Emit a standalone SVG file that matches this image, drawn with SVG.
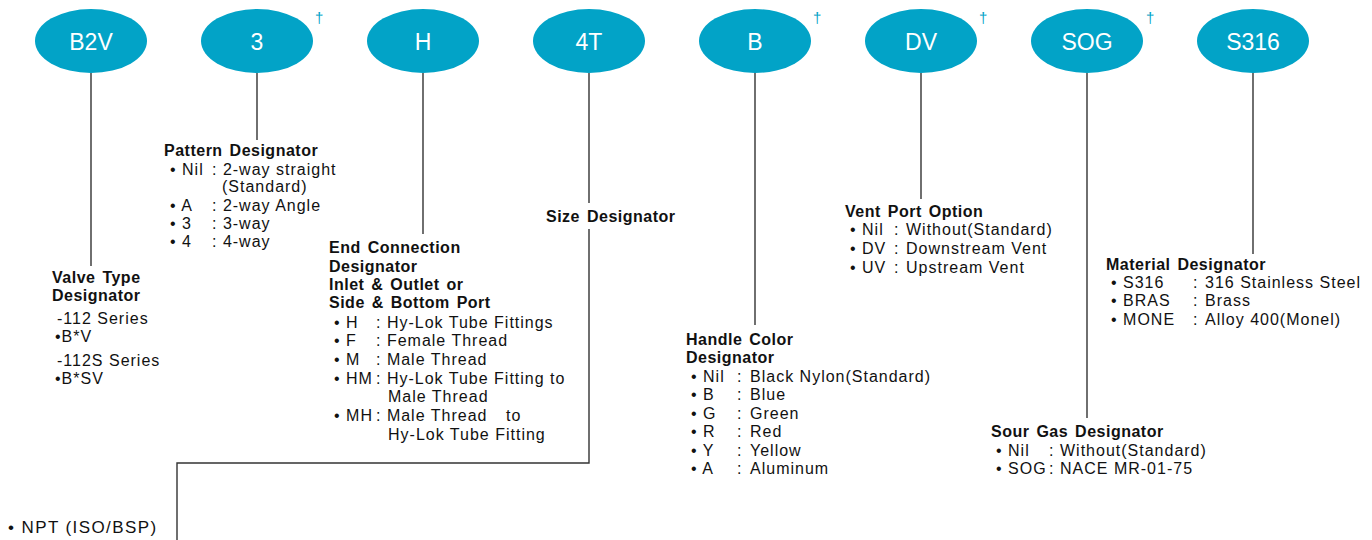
<svg xmlns="http://www.w3.org/2000/svg" width="1372" height="540" viewBox="0 0 1372 540">
<style>
.node ellipse{fill:#02a3c7}
.lbl{font-family:"Liberation Sans",Arial,sans-serif;font-size:23px;fill:#fff;text-anchor:middle}
.dag{font-family:"Liberation Sans",Arial,sans-serif;font-size:15px;fill:#02a3c7}
.t{font-family:"Liberation Sans",Arial,sans-serif;font-size:16px;font-weight:bold;fill:#111;letter-spacing:0.5px;word-spacing:2px}
.i{font-family:"Liberation Sans",Arial,sans-serif;font-size:16px;fill:#111;letter-spacing:1px}
.conn line,.conn polyline{stroke:#333;stroke-width:1.4;fill:none}
</style>
<rect width="1372" height="540" fill="#fff"/>
<g class="conn" id="connectors">
<line x1="91" y1="73" x2="91" y2="266"/>
<line x1="257" y1="73" x2="257" y2="140"/>
<line x1="423" y1="73" x2="423" y2="234"/>
<line x1="589" y1="73" x2="589" y2="203"/>
<polyline points="589,229 589,463 177,463 177,540"/>
<line x1="755" y1="73" x2="755" y2="325"/>
<line x1="921" y1="73" x2="921" y2="199"/>
<line x1="1087" y1="73" x2="1087" y2="418"/>
<line x1="1253" y1="73" x2="1253" y2="254"/>
</g>
<g class="node" id="n-b2v"><ellipse cx="91" cy="41" rx="56" ry="32"/><text class="lbl" x="91" y="50">B2V</text></g>
<g class="node" id="n-3"><ellipse cx="257" cy="41" rx="56" ry="32"/><text class="lbl" x="257" y="50">3</text><text class="dag" x="315" y="23">†</text></g>
<g class="node" id="n-h"><ellipse cx="423" cy="41" rx="56" ry="32"/><text class="lbl" x="423" y="50">H</text></g>
<g class="node" id="n-4t"><ellipse cx="589" cy="41" rx="56" ry="32"/><text class="lbl" x="589" y="50">4T</text></g>
<g class="node" id="n-b"><ellipse cx="755" cy="41" rx="56" ry="32"/><text class="lbl" x="755" y="50">B</text><text class="dag" x="813" y="23">†</text></g>
<g class="node" id="n-dv"><ellipse cx="921" cy="41" rx="56" ry="32"/><text class="lbl" x="921" y="50">DV</text><text class="dag" x="979" y="23">†</text></g>
<g class="node" id="n-sog"><ellipse cx="1087" cy="41" rx="56" ry="32"/><text class="lbl" x="1087" y="50">SOG</text><text class="dag" x="1146" y="23">†</text></g>
<g class="node" id="n-s316"><ellipse cx="1253" cy="41" rx="56" ry="32"/><text class="lbl" x="1253" y="50">S316</text></g>

<g id="valve-type">
<text class="t" x="52" y="283">Valve Type</text>
<text class="t" x="52" y="301">Designator</text>
<text class="i" x="57" y="324">-112 Series</text>
<text class="i" x="55" y="342">•B*V</text>
<text class="i" x="57" y="366">-112S Series</text>
<text class="i" x="55" y="384">•B*SV</text>
</g>
<g id="pattern">
<text class="t" x="164" y="156">Pattern Designator</text>
<text class="i" y="175"><tspan x="170">• Nil</tspan><tspan x="212">: 2-way straight</tspan></text>
<text class="i" x="222" y="192">(Standard)</text>
<text class="i" y="211"><tspan x="170">• A</tspan><tspan x="212">: 2-way Angle</tspan></text>
<text class="i" y="229"><tspan x="170">• 3</tspan><tspan x="212">: 3-way</tspan></text>
<text class="i" y="247"><tspan x="170">• 4</tspan><tspan x="212">: 4-way</tspan></text>
</g>
<g id="end-conn">
<text class="t" x="329" y="253">End Connection</text>
<text class="t" x="329" y="272">Designator</text>
<text class="t" x="329" y="290">Inlet &amp; Outlet or</text>
<text class="t" x="329" y="308">Side &amp; Bottom Port</text>
<text class="i" y="328"><tspan x="334">• H</tspan><tspan x="376">: Hy-Lok Tube Fittings</tspan></text>
<text class="i" y="346"><tspan x="334">• F</tspan><tspan x="376">: Female Thread</tspan></text>
<text class="i" y="365"><tspan x="334">• M</tspan><tspan x="376">: Male Thread</tspan></text>
<text class="i" y="384"><tspan x="334">• HM</tspan><tspan x="376">: Hy-Lok Tube Fitting to</tspan></text>
<text class="i" x="388" y="402">Male Thread</text>
<text class="i" y="421"><tspan x="334">• MH</tspan><tspan x="376">: Male Thread</tspan><tspan x="506">to</tspan></text>
<text class="i" x="388" y="440">Hy-Lok Tube Fitting</text>
</g>
<g id="size"><text class="t" x="546" y="222">Size Designator</text></g>
<g id="handle">
<text class="t" x="686" y="345">Handle Color</text>
<text class="t" x="686" y="363">Designator</text>
<text class="i" y="382"><tspan x="691">• Nil</tspan><tspan x="737">:</tspan><tspan x="750">Black Nylon(Standard)</tspan></text>
<text class="i" y="400"><tspan x="691">• B</tspan><tspan x="737">:</tspan><tspan x="750">Blue</tspan></text>
<text class="i" y="419"><tspan x="691">• G</tspan><tspan x="737">:</tspan><tspan x="750">Green</tspan></text>
<text class="i" y="437"><tspan x="691">• R</tspan><tspan x="737">:</tspan><tspan x="750">Red</tspan></text>
<text class="i" y="456"><tspan x="691">• Y</tspan><tspan x="737">:</tspan><tspan x="750">Yellow</tspan></text>
<text class="i" y="474"><tspan x="691">• A</tspan><tspan x="737">:</tspan><tspan x="750">Aluminum</tspan></text>
</g>
<g id="vent">
<text class="t" x="845" y="217">Vent Port Option</text>
<text class="i" y="235"><tspan x="850">• Nil</tspan><tspan x="894">:</tspan><tspan x="906">Without(Standard)</tspan></text>
<text class="i" y="254"><tspan x="850">• DV</tspan><tspan x="894">:</tspan><tspan x="906">Downstream Vent</tspan></text>
<text class="i" y="273"><tspan x="850">• UV</tspan><tspan x="894">:</tspan><tspan x="906">Upstream Vent</tspan></text>
</g>
<g id="material">
<text class="t" x="1106" y="270">Material Designator</text>
<text class="i" y="288"><tspan x="1111">• S316</tspan><tspan x="1193">:</tspan><tspan x="1205">316 Stainless Steel</tspan></text>
<text class="i" y="306"><tspan x="1111">• BRAS</tspan><tspan x="1193">:</tspan><tspan x="1205">Brass</tspan></text>
<text class="i" y="325"><tspan x="1111">• MONE</tspan><tspan x="1193">:</tspan><tspan x="1205">Alloy 400(Monel)</tspan></text>
</g>
<g id="sour">
<text class="t" x="991" y="437">Sour Gas Designator</text>
<text class="i" y="456"><tspan x="996">• Nil</tspan><tspan x="1049">:</tspan><tspan x="1060">Without(Standard)</tspan></text>
<text class="i" y="474"><tspan x="996">• SOG</tspan><tspan x="1049">:</tspan><tspan x="1060">NACE MR-01-75</tspan></text>
</g>
<g id="npt"><text class="i" x="8" y="533" style="font-size:17px;letter-spacing:1.4px">• NPT (ISO/BSP)</text></g>
</svg>
